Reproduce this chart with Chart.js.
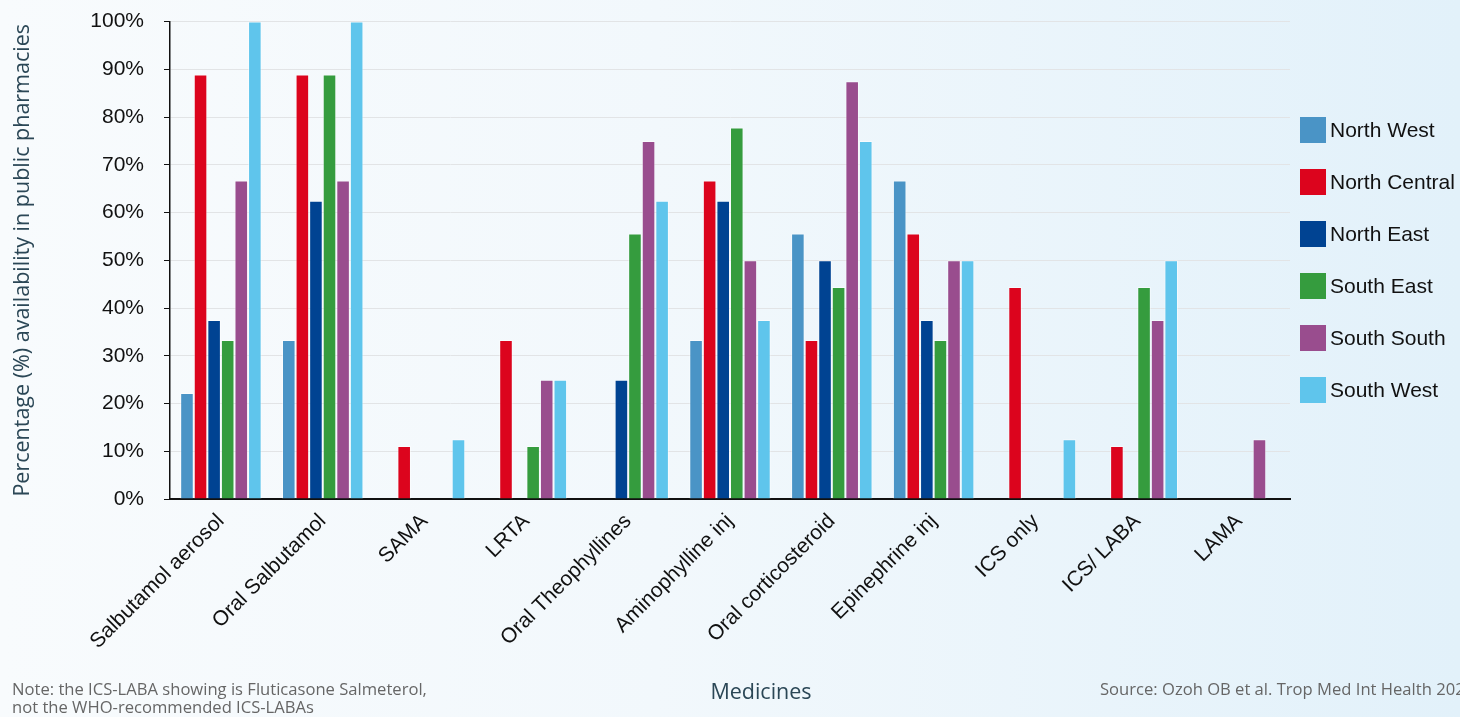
<!DOCTYPE html>
<html>
<head>
<meta charset="utf-8">
<script src="https://cdn.jsdelivr.net/npm/chart.js@4.4.1/dist/chart.umd.min.js"></script>
<style>
  html, body { margin: 0; padding: 0; }
  body {
    width: 1460px; height: 717px; overflow: hidden; position: relative;
    background: linear-gradient(to right, #f8fbfd 0%, #f2f8fc 45%, #e2f1fa 100%);
  }
  #wrap { position: absolute; left: 0; top: -11px; width: 1460px; height: 728px; }
  .note { position: absolute; font-family: "Open Sans", sans-serif; color: #666; font-size: 16.6px; line-height: 18px; }
  #xtitle { position: absolute; left: 761px; top: 676px; transform: translateX(-50%); font-family: "Open Sans", sans-serif; font-size: 21.5px; color: #2b4756; }
  #legend { position: absolute; left: 1300px; top: 117px; font-family: "Liberation Sans", Arial, sans-serif; font-size: 21px; color: #111; }
  #legend .item { display: flex; align-items: center; height: 26px; margin-bottom: 26px; white-space: nowrap; }
  #legend .box { width: 26px; height: 26px; margin-right: 4px; }
</style>
</head>
<body>
<div id="wrap"><canvas id="chart" width="1460" height="728"></canvas></div>
<div id="legend"></div>
<div class="note" style="left:12px; top:680px;">Note: the ICS-LABA showing is Fluticasone Salmeterol,<br>not the WHO-recommended ICS-LABAs</div>
<div id="xtitle">Medicines</div>
<div class="note" style="left:1100px; top:680px; white-space:nowrap;">Source: Ozoh OB et al. Trop Med Int Health 2021</div>
<script>
const medicines = [
  "Salbutamol aerosol", "Oral Salbutamol", "SAMA", "LRTA", "Oral Theophyllines",
  "Aminophylline inj", "Oral corticosteroid", "Epinephrine inj", "ICS only", "ICS/ LABA", "LAMA"
];
const yTicks = [0, 10, 20, 30, 40, 50, 60, 70, 80, 90, 100];

// % availability by zone
const northWest    = [22.2, 33.3, 0, 0, 0, 33.3, 55.6, 66.7, 0, 0, 0];
const northCentral = [88.9, 88.9, 11.1, 33.3, 0, 66.7, 33.3, 55.6, 44.4, 11.1, 0];
const northEast    = [37.5, 62.5, 0, 0, 25, 62.5, 50, 37.5, 0, 0, 0];
const southEast    = [33.3, 88.9, 0, 11.1, 55.6, 77.8, 44.4, 33.3, 0, 44.4, 0];
const southSouth   = [66.7, 66.7, 0, 25, 75, 50, 87.5, 50, 0, 37.5, 12.5];
const southWest    = [100, 100, 12.5, 25, 62.5, 37.5, 75, 50, 12.5, 50, 0];

const zones = [
  ["North West", northWest, "#4a94c6"],
  ["North Central", northCentral, "#dc041d"],
  ["North East", northEast, "#004392"],
  ["South East", southEast, "#359c3e"],
  ["South South", southSouth, "#994d8e"],
  ["South West", southWest, "#5fc5ec"],
];

const tickFont = { family: "'Liberation Sans', Arial, sans-serif", size: 21 };

// legend built from the datasets, as html
const htmlLegend = {
  id: "htmlLegend",
  afterUpdate(chart) {
    const el = document.getElementById("legend");
    el.innerHTML = chart.data.datasets
      .map((d) => `<div class="item"><span class="box" style="background:${d.backgroundColor}"></span>${d.label}</div>`)
      .join("");
  },
};

new Chart(document.getElementById("chart"), {
  type: "bar",
  data: {
    labels: medicines,
    datasets: zones.map(([label, data, color]) => ({
      label,
      data,
      backgroundColor: color,
      borderColor: "rgba(255,255,255,0.5)",
      borderWidth: 1,
      barPercentage: 1,
      categoryPercentage: 0.8,
    })),
  },
  options: {
    responsive: false,
    animation: false,
    layout: { padding: { top: 0, right: 170, left: 0, bottom: 0 } },
    plugins: {
      tooltip: { enabled: false },
      legend: { display: false },
    },
    scales: {
      x: {
        afterFit: (s) => { s.height = 218; },
        grid: { display: false, drawTicks: false },
        border: { color: "#111", width: 2 },
        ticks: { color: "#111", font: tickFont, minRotation: 45, maxRotation: 45, padding: 10 },
      },
      y: {
        min: 0,
        max: 100,
        afterFit: (s) => { s.width = 170; },
        afterBuildTicks: (s) => { s.ticks = yTicks.map((v) => ({ value: v })); },
        grid: { color: "#e2e4e6", tickColor: "#111", tickLength: 6 },
        border: { color: "#111", width: 1.5 },
        ticks: { color: "#111", font: tickFont, padding: 20, callback: (v) => v + "%" },
        title: {
          display: true,
          text: "Percentage (%) availability in public pharmacies",
          color: "#2b4756",
          font: { family: "'Open Sans', sans-serif", size: 21.5 },
          padding: { top: 10, bottom: 0 },
        },
      },
    },
  },
  plugins: [htmlLegend],
});
</script>
</body>
</html>
